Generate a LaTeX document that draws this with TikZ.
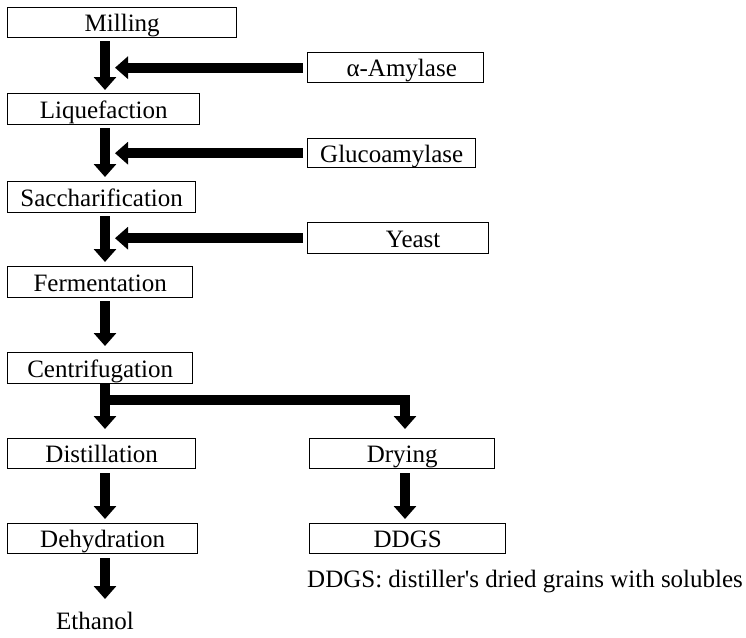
\documentclass[tikz,border=0pt]{standalone}
\usepackage{fontspec}
\setmainfont{Liberation Serif}
\usetikzlibrary{arrows.meta,positioning,calc}
\tikzset{
  stepbox/.style={draw,line width=1.4pt,inner sep=0pt,anchor=north west,
    minimum height=31pt,text height=18pt,text depth=0pt,
    font=\fontsize{25}{28}\selectfont},
  flow/.style={line width=10pt,-{Triangle[width=22pt,length=13pt]}},
  note/.style={inner sep=0pt,font=\fontsize{25}{28}\selectfont}
}
\begin{document}
\begin{tikzpicture}[x=1pt,y=-1pt]
  \useasboundingbox (0,0) rectangle (746,637);
  % main line
  \node[stepbox,minimum width=229pt,minimum height=30pt] (milling) at (7,7) {Milling};
  \node[stepbox,minimum width=192pt] (liquefaction) at (7,93) {Liquefaction};
  \node[stepbox,minimum width=188pt] (saccharification) at (7,181) {Saccharification};
  \node[stepbox,minimum width=185pt] (fermentation) at (7,266) {Fermentation};
  \node[stepbox,minimum width=185pt] (centrifugation) at (7,352) {Centrifugation};
  \node[stepbox,minimum width=188pt,minimum height=30pt] (distillation) at (7,438) {Distillation};
  \node[stepbox,minimum width=190pt,minimum height=30pt] (dehydration) at (7,523) {Dehydration};
  \node[note,anchor=north] (ethanol) at (95,612) {Ethanol};
  % inputs
  \node[stepbox,minimum width=176pt,minimum height=30pt] (amylase) at (307,52) {\hspace{12pt}α-Amylase};
  \node[stepbox,minimum width=168pt,minimum height=29pt] (glucoamylase) at (307,138) {Glucoamylase};
  \node[stepbox,minimum width=181pt] (yeast) at (307,222) {\hspace{30pt}Yeast};
  % side line
  \node[stepbox,minimum width=185pt,minimum height=30pt] (drying) at (309,438) {Drying};
  \node[stepbox,minimum width=196pt,minimum height=30pt] (ddgs) at (309,523) {DDGS};
  \node[note,anchor=west] (legend) at (307,582) {DDGS: distiller\textquotesingle s dried grains with solubles};
  % columns
  \coordinate (col) at (105,0);
  \coordinate (dcol) at (405,0);
  \coordinate (tip) at (115,0);
  \coordinate (split) at (105,400);
  % arrows
  \draw[flow,shorten <=3pt,shorten >=3pt] (milling.south -| col) -- (liquefaction.north -| col);
  \draw[flow,shorten <=3pt,shorten >=4pt] (liquefaction.south -| col) -- (saccharification.north -| col);
  \draw[flow,shorten <=3pt,shorten >=4pt] (saccharification.south -| col) -- (fermentation.north -| col);
  \draw[flow,shorten <=3pt,shorten >=6pt] (fermentation.south -| col) -- (centrifugation.north -| col);
  \draw[flow,shorten >=9pt] (centrifugation.south -| col) -- (distillation.north -| col);
  \draw[flow,shorten >=9pt] (split) -| (drying.north -| dcol);
  \draw[flow,shorten <=4pt,shorten >=4pt] (distillation.south -| col) -- (dehydration.north -| col);
  \draw[flow,shorten <=4pt,shorten >=4pt] (drying.south -| dcol) -- (ddgs.north -| dcol);
  \draw[flow,shorten <=4pt,shorten >=13pt] (dehydration.south -| col) -- (ethanol.north -| col);
  \draw[flow,shorten <=4pt] (amylase.west) -- (amylase.west -| tip);
  \draw[flow,shorten <=4pt] (glucoamylase.west) -- (glucoamylase.west -| tip);
  \draw[flow,shorten <=4pt] (yeast.west) -- (yeast.west -| tip);
\end{tikzpicture}
\end{document}
